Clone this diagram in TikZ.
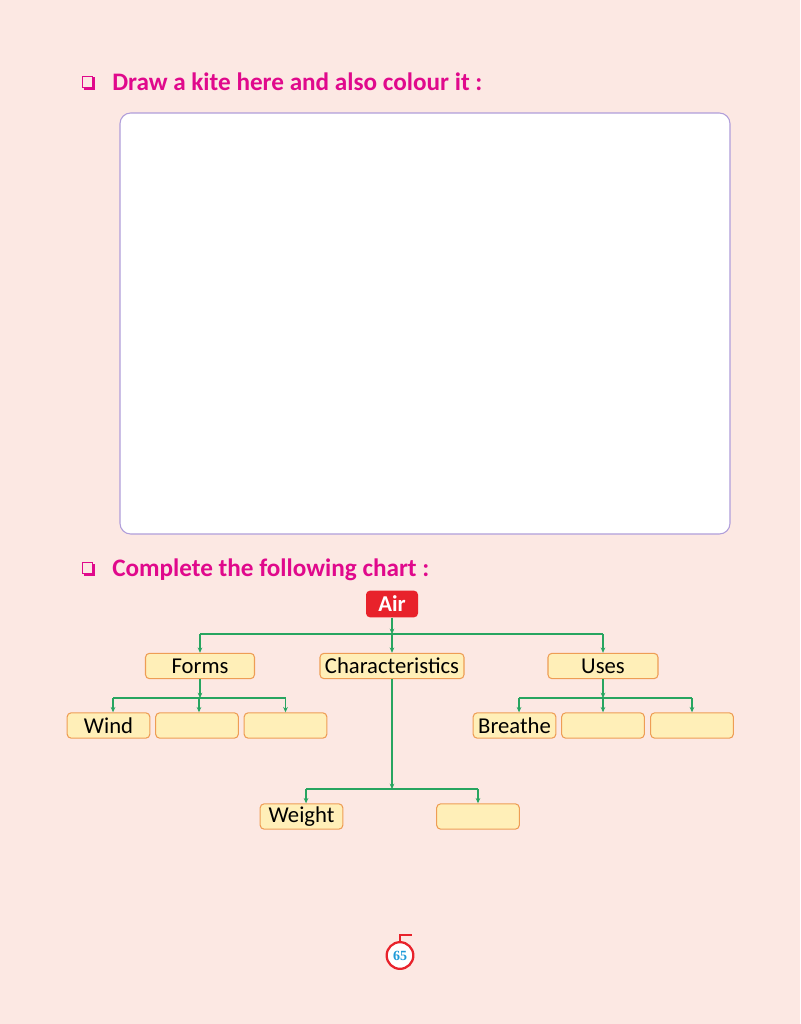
\documentclass[tikz,border=0pt]{standalone}
\usepackage{fontspec}
\setmainfont{Carlito}
\newfontfamily\numfont{Liberation Serif}
\usetikzlibrary{arrows.meta,positioning}
\definecolor{pagebg}{HTML}{FCE8E3}
\definecolor{headpink}{HTML}{E0098C}
\definecolor{kiteline}{HTML}{B09EDA}
\definecolor{airred}{HTML}{E8222B}
\definecolor{linkgreen}{HTML}{27A560}
\definecolor{boxfill}{HTML}{FFEFB8}
\definecolor{boxline}{HTML}{EE9D55}
\definecolor{numblue}{HTML}{1E9AD8}

\begin{document}
\begin{tikzpicture}[x=0.75pt, y=-0.75pt,
  heading/.style = {anchor=base west, text=headpink, inner sep=0pt, font=\fontsize{18.9}{22}\selectfont\bfseries},
  chartbox/.style = {draw=boxline, fill=boxfill, rounded corners=3pt, line width=0.8pt, minimum height=19pt, inner sep=1pt, font=\fontsize{17}{20}\selectfont},
  leaf/.style = {chartbox, minimum width=62pt},
  link/.style = {draw=linkgreen, line width=0.9pt},
  tip/.style = {link, -{Stealth[length=4pt,width=3.5pt]}}]
\useasboundingbox[fill=pagebg] (0,0) rectangle (800,1024);

% headings
\draw[headpink, line width=0.6pt] (82,76) rectangle (92.5,87.5);
\draw[headpink, line width=1.8pt] (83.5,89.2) -- (94.2,89.2) -- (94.2,77.5);
\node[heading] (kitehead) at (112,90) {Draw a kite here and also colour it :};
\draw[kiteline, fill=white, rounded corners=8pt, line width=0.8pt] (120,113) rectangle (730,534);

\draw[headpink, line width=0.6pt] (82,562) rectangle (92.5,573.5);
\draw[headpink, line width=1.8pt] (83.5,575.2) -- (94.2,575.2) -- (94.2,563.5);
\node[heading] (charthead) at (112,576) {Complete the following chart :};

% chart
\node[fill=airred, text=white, rounded corners=3pt, minimum width=39pt, minimum height=20pt, inner sep=1pt, font=\fontsize{17}{20}\selectfont\bfseries] (air) at (392,604) {Air};
\node[chartbox, minimum width=81.75pt] (forms) at (200,666) {Forms};
\node[chartbox, minimum width=108pt] (chars) at (392,666) {Characteristics};
\node[chartbox, minimum width=82.5pt] (uses) at (603,666) {Uses};

\node[leaf] (wind) at (108.5,725.5) {Wind};
\node[leaf] (form2) at (197,725.5) {};
\node[leaf] (form3) at (285.5,725.5) {};
\node[leaf] (breathe) at (514.5,725.5) {Breathe};
\node[leaf] (use2) at (603,725.5) {};
\node[leaf] (use3) at (692,725.5) {};
\node[leaf] (weight) at (301.5,816.5) {Weight};
\node[leaf] (char2) at (478,816.5) {};

\coordinate (airbar) at (392,634);
\coordinate (formsbar) at (200,698);
\coordinate (usesbar) at (603,698);
\coordinate (charsbar) at (392,789);
% arrow entry points that sit right of the box centre
\coordinate (windin) at ([xshift=3.4pt]wind.north);
\coordinate (form2in) at ([xshift=1.5pt]form2.north);
\coordinate (breathein) at ([xshift=3.4pt]breathe.north);
\coordinate (weightin) at ([xshift=3.4pt]weight.north);

\draw[tip] (air.south) -- (airbar);
\draw[link] (forms.north |- airbar) -- (uses.north |- airbar);
\draw[tip] (forms.north |- airbar) -- (forms.north);
\draw[tip] (airbar) -- (chars.north);
\draw[tip] (uses.north |- airbar) -- (uses.north);

\draw[tip] (forms.south) -- (formsbar);
\draw[link] (windin |- formsbar) -- (form3.north |- formsbar);
\foreach \n in {windin, form2in, form3.north}
  \draw[tip] (\n |- formsbar) -- (\n);

\draw[tip] (uses.south) -- (usesbar);
\draw[link] (breathein |- usesbar) -- (use3.north |- usesbar);
\foreach \n in {breathein, use2.north, use3.north}
  \draw[tip] (\n |- usesbar) -- (\n);

\draw[tip] (chars.south) -- (charsbar);
\draw[link] (weightin |- charsbar) -- (char2.north |- charsbar);
\foreach \n in {weightin, char2.north}
  \draw[tip] (\n |- charsbar) -- (\n);

% page number
\node[circle, draw=airred, fill=white, line width=1.7pt, minimum size=20pt, inner sep=0pt, text=numblue, font=\numfont\fontsize{10.5}{12}\selectfont\bfseries] (pagenum) at (400,955.5) {65};
\draw[airred, line width=1.7pt] (pagenum.north) -- ++(0,-6) -- ++(12,0);
\end{tikzpicture}
\end{document}
